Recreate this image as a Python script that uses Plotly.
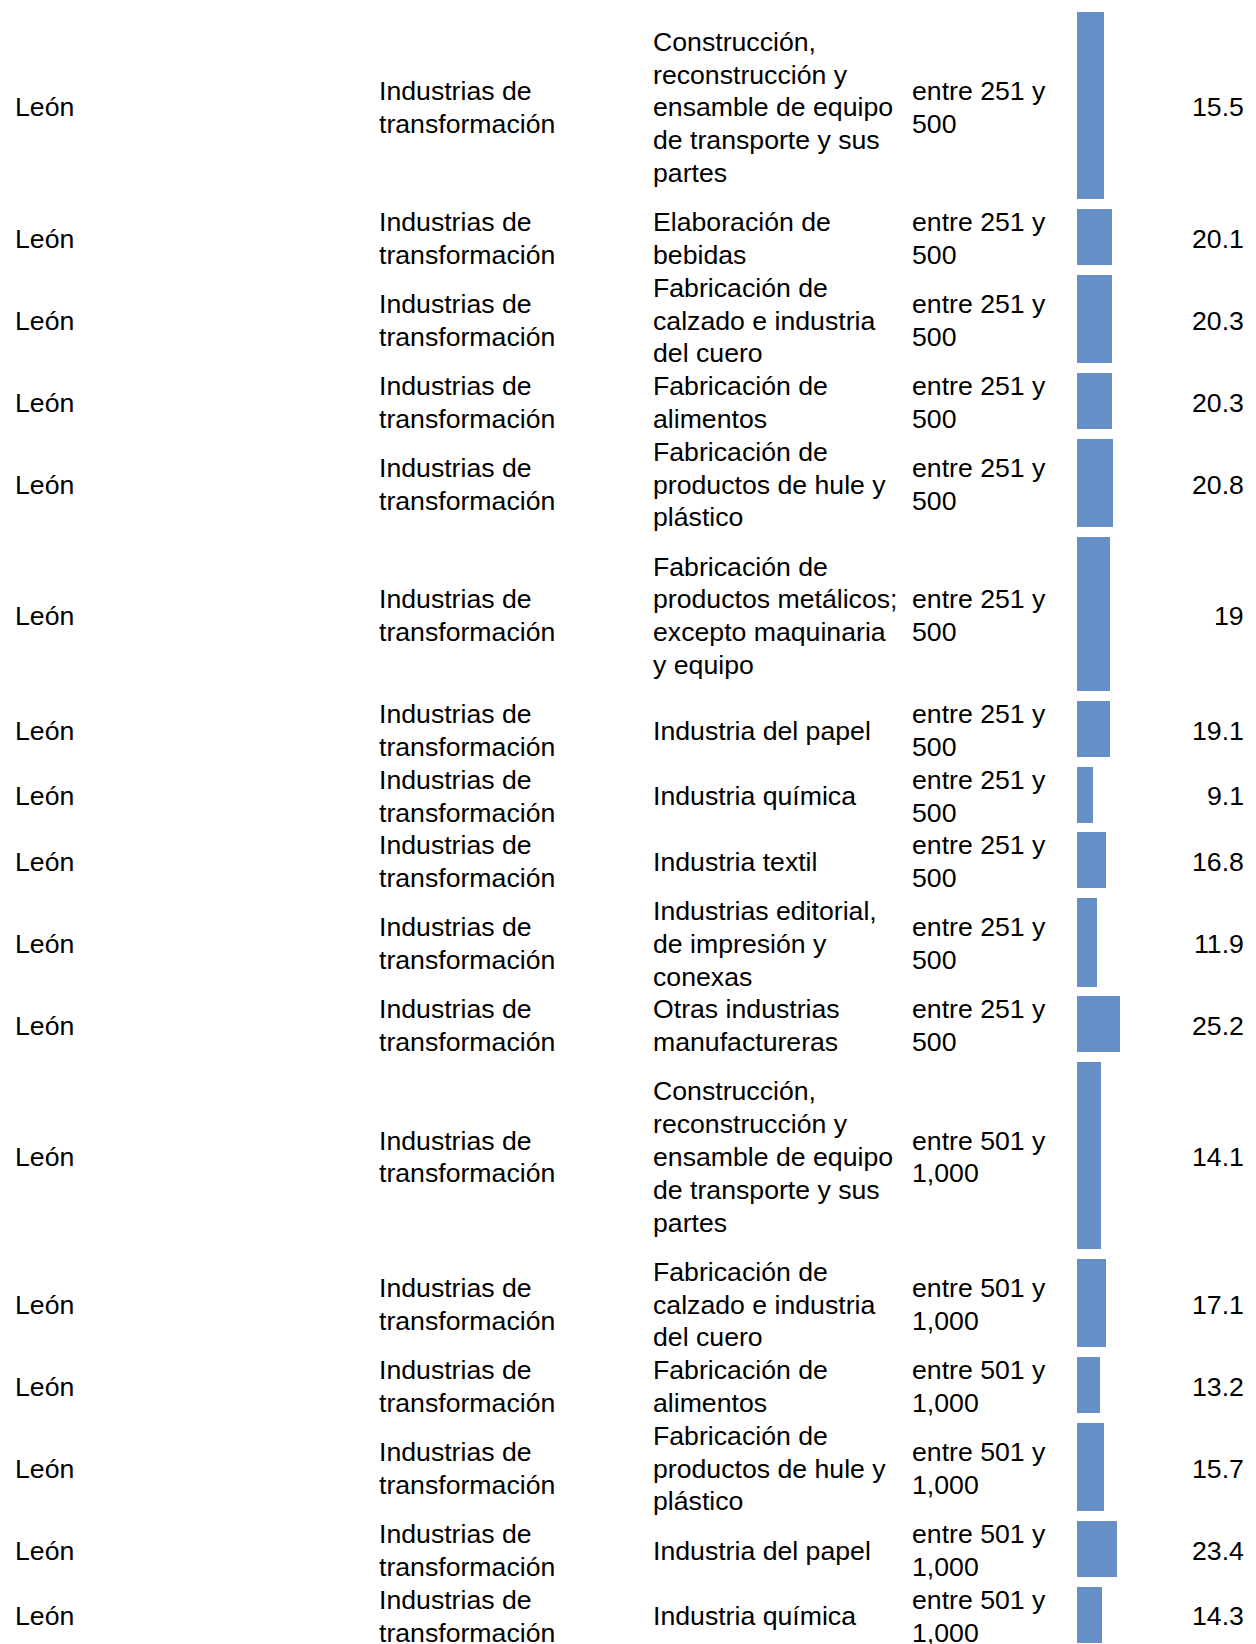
import plotly.graph_objects as go

# ---------------- data ----------------
municipio = ["León"] * 17
sector = ["Industrias de<br>transformación"] * 17
actividad = [
    "Construcción,<br>reconstrucción y<br>ensamble de equipo<br>de transporte y sus<br>partes",
    "Elaboración de<br>bebidas",
    "Fabricación de<br>calzado e industria<br>del cuero",
    "Fabricación de<br>alimentos",
    "Fabricación de<br>productos de hule y<br>plástico",
    "Fabricación de<br>productos metálicos;<br>excepto maquinaria<br>y equipo",
    "Industria del papel",
    "Industria química",
    "Industria textil",
    "Industrias editorial,<br>de impresión y<br>conexas",
    "Otras industrias<br>manufactureras",
    "Construcción,<br>reconstrucción y<br>ensamble de equipo<br>de transporte y sus<br>partes",
    "Fabricación de<br>calzado e industria<br>del cuero",
    "Fabricación de<br>alimentos",
    "Fabricación de<br>productos de hule y<br>plástico",
    "Industria del papel",
    "Industria química",
]
tamano = ["entre 251 y<br>500"] * 11 + ["entre 501 y<br>1,000"] * 6
valores = [15.5, 20.1, 20.3, 20.3, 20.8, 19, 19.1, 9.1, 16.8, 11.9, 25.2,
           14.1, 17.1, 13.2, 15.7, 23.4, 14.3]

# ---------------- layout constants ----------------
W, H = 1256, 1644
U = 32.8          # px per text-line unit (row height unit = line spacing)
TOP = 7.4         # px of first row top
GAP = 9.6         # px gap between bars
BAR_X0 = 1077     # px where bars start
PX_PER = 1.72     # px per value unit
FONT = dict(family="Arial, Liberation Sans, sans-serif", size=26.67, color="#000000")
BAR_COLOR = "#668fc7"
TEXT_DY = -1.5    # px (negative = downwards)

COL_X = {"mun": 14, "sec": 378, "act": 652, "tam": 911, "val": 1245}


def split(s):
    return s.split("<br>")


units = []
for a, t in zip(actividad, tamano):
    n = max(len(split(a)), len(split(t)), 2)
    units.append(n if n <= 3 else n + 1)

centers, widths = [], []
acc = 0.0
for u in units:
    centers.append(acc + u / 2)
    widths.append(u - GAP / U)
    acc += u

fig = go.Figure()
fig.add_trace(go.Bar(
    x=valores, y=centers, width=widths, orientation="h",
    marker=dict(color=BAR_COLOR, line=dict(width=0)),
    hoverinfo="skip", showlegend=False,
))

annotations = []


def add_cell(txt, xpx, yc, anchor):
    lines = split(txt)
    n = len(lines)
    for k, line in enumerate(lines):
        annotations.append(dict(
            x=xpx / W, xref="paper", y=yc + (k - (n - 1) / 2), yref="y",
            text=line, showarrow=False, xanchor=anchor, yanchor="middle",
            align=anchor, font=FONT, borderpad=0, yshift=TEXT_DY,
        ))


for i, yc in enumerate(centers):
    add_cell(municipio[i], COL_X["mun"], yc, "left")
    add_cell(sector[i], COL_X["sec"], yc, "left")
    add_cell(actividad[i], COL_X["act"], yc, "left")
    add_cell(tamano[i], COL_X["tam"], yc, "left")
    add_cell(f"{valores[i]:g}", COL_X["val"], yc, "right")

fig.update_layout(
    width=W, height=H,
    margin=dict(l=0, r=0, t=0, b=0),
    paper_bgcolor="white", plot_bgcolor="white",
    xaxis=dict(range=[-BAR_X0 / PX_PER, (W - BAR_X0) / PX_PER], domain=[0, 1],
               visible=False, fixedrange=True),
    yaxis=dict(range=[(H - TOP) / U, -TOP / U], domain=[0, 1],
               visible=False, fixedrange=True),
    annotations=annotations,
    bargap=0,
)

fig.write_html("out.html",
               config={"displayModeBar": False},
               post_script="document.body.style.margin='0px';document.body.style.overflow='hidden';")
